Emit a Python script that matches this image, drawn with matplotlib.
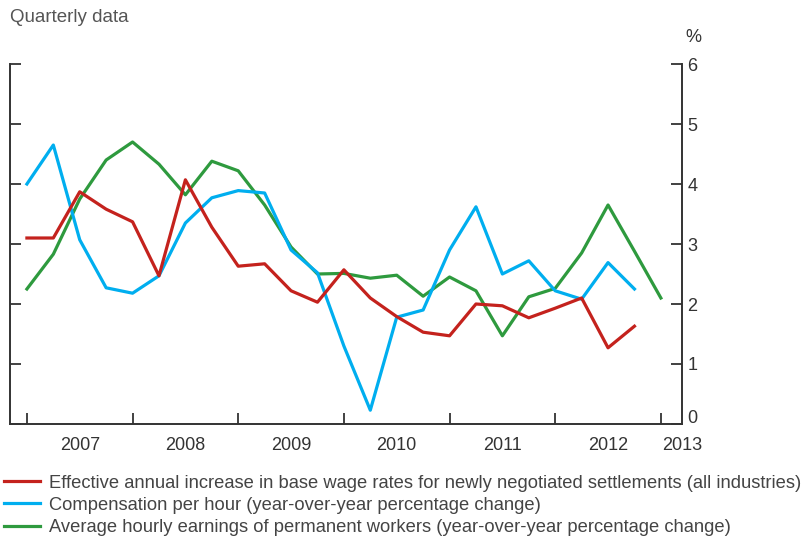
import matplotlib.pyplot as plt
from matplotlib.ticker import FuncFormatter
import numpy as np

plt.rcParams['font.family'] = ['Liberation Sans', 'DejaVu Sans']

# quarterly data, first point = 2007Q1
wage_settlements = [3.10, 3.10, 3.87, 3.58, 3.37, 2.47, 4.07, 3.28, 2.63, 2.67, 2.22, 2.03,
                    2.57, 2.10, 1.79, 1.53, 1.47, 2.00, 1.97, 1.77, 1.93, 2.10, 1.27, 1.63]
comp_per_hour = [4.00, 4.65, 3.07, 2.27, 2.18, 2.47, 3.35, 3.77, 3.89, 3.85, 2.90, 2.52,
                 1.30, 0.23, 1.78, 1.90, 2.90, 3.62, 2.50, 2.72, 2.22, 2.08, 2.69, 2.25]
hourly_earnings = [2.25, 2.83, 3.75, 4.40, 4.70, 4.33, 3.82, 4.38, 4.22, 3.65, 2.95, 2.50,
                   2.51, 2.43, 2.48, 2.13, 2.45, 2.22, 1.47, 2.12, 2.26, 2.85, 3.65, 2.88, 2.10]
years = [2007, 2008, 2009, 2010, 2011, 2012, 2013]

labels = [
    'Effective annual increase in base wage rates for newly negotiated settlements (all industries)',
    'Compensation per hour (year-over-year percentage change)',
    'Average hourly earnings of permanent workers (year-over-year percentage change)',
]
colors = ['#C4221D', '#00AEEF', '#2E9A3E']

fig = plt.figure(figsize=(8.12, 5.40), dpi=100)
ax = fig.add_axes([10 / 812, 1 - 424 / 540, 672 / 812, 360 / 540])

x_red = 2007 + np.arange(len(wage_settlements)) / 4
x_blue = 2007 + np.arange(len(comp_per_hour)) / 4
x_green = 2007 + np.arange(len(hourly_earnings)) / 4

lines = []
lines += ax.plot(x_red, wage_settlements, color=colors[0], lw=2.3, zorder=3)
lines += ax.plot(x_blue, comp_per_hour, color=colors[1], lw=2.3, zorder=2)
lines += ax.plot(x_green, hourly_earnings, color=colors[2], lw=2.3, zorder=1)

ax.set_xlim(2007 - 0.16, 2013.155)
ax.set_ylim(0, 6)

dark = '#333333'
ax.spines['top'].set_visible(False)
for side in ['left', 'right', 'bottom']:
    ax.spines[side].set_color(dark)
    ax.spines[side].set_linewidth(1.4)

ax.set_yticks(range(0, 7))
# "0" is drawn separately, a bit higher, like in the original
ax.yaxis.set_major_formatter(FuncFormatter(lambda v, p: '' if v == 0 else f'{v:.0f}'))
ax.tick_params(axis='y', left=True, right=True, labelleft=False, labelright=True,
               direction='in', length=8, width=1.3, color=dark, labelsize=13,
               labelcolor=dark, pad=4)
ax.annotate('0', xy=(1, 0), xycoords=ax.get_yaxis_transform(), xytext=(4, 4.3),
            textcoords='offset points', ha='left', va='center', fontsize=13, color=dark)

ax.set_xticks(years)
ax.set_xticklabels([])
ax.tick_params(axis='x', which='major', direction='in', length=8, width=1.3, color=dark)
label_pos = [y + 0.5 for y in years[:-1]] + [years[-1] + 0.2]
ax.set_xticks(label_pos, minor=True)
ax.set_xticklabels([str(y) for y in years], minor=True)
ax.tick_params(axis='x', which='minor', length=0, labelsize=13, labelcolor=dark, pad=9)

fig.text(10 / 812, 1 - 18 / 540, 'Quarterly data', fontsize=13.5, color='#555555',
         va='center', ha='left')
fig.text(693 / 812, 1 - 38 / 540, '%', fontsize=13, color=dark, va='center', ha='center')

fig.legend(lines, labels, loc='upper left', bbox_to_anchor=(0.0, 1 - 471 / 540),
           frameon=False, fontsize=13.2, handlelength=2.0, handletextpad=0.5,
           labelspacing=0.28, borderaxespad=0, borderpad=0.2, labelcolor='#444444')

fig.savefig('out.png', dpi=100)
